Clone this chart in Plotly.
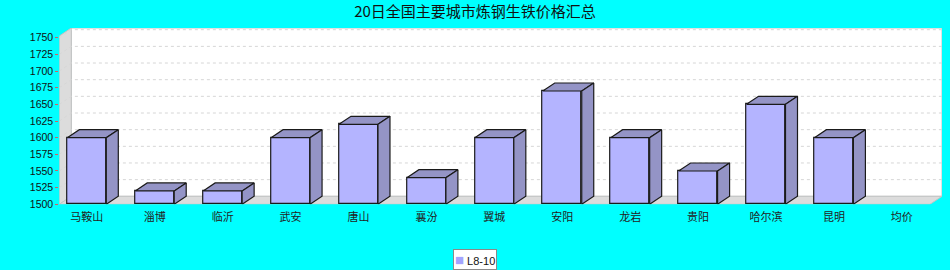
import plotly.graph_objects as go

# ---------------- data ----------------
title_text = "20日全国主要城市炼钢生铁价格汇总"
categories = ["马鞍山", "淄博", "临沂", "武安", "唐山", "襄汾", "翼城",
              "安阳", "龙岩", "贵阳", "哈尔滨", "昆明", "均价"]
values = [1600, 1520, 1520, 1600, 1620, 1540, 1600, 1670, 1600, 1550, 1650, 1600, None]
series_name = "L8-10"
y_ticks = [1500, 1525, 1550, 1575, 1600, 1625, 1650, 1675, 1700, 1725, 1750]

# ---------------- layout constants ----------------
W, H = 950, 270
PX_L, PX_R, PX_T, PX_B = 59.3, 942.0, 28.0, 204.3
PX_PER_CAT = 67.92
PX_PER_UNIT = 0.6664
FIRST_CENTER_PX = 86.8
DEPTH_PX_X, DEPTH_PX_Y = 12.0, 8.0

Y_BASE = 1500
X0 = (PX_L - FIRST_CENTER_PX) / PX_PER_CAT
X_MAX = X0 + (PX_R - PX_L) / PX_PER_CAT
Y_MAX = Y_BASE + (PX_B - PX_T) / PX_PER_UNIT
DX = DEPTH_PX_X / PX_PER_CAT
DY = DEPTH_PX_Y / PX_PER_UNIT
BAR_W = 39.0 / PX_PER_CAT

FRONT = "#b4b4ff"
SIDE = "#9494c6"
EDGE = "#1a1a1a"
WALL = "#dcdcdc"
WALL_EDGE = "#c4c4c4"
BG = "#00ffff"

fig = go.Figure()

def poly_path(pts):
    return "M " + " L ".join(f"{x},{y}" for x, y in pts) + " Z"

shapes = []
# back wall
shapes.append(dict(type="path", xref="x", yref="y", layer="below",
                   path=poly_path([(X0 + DX, Y_BASE + DY), (X_MAX, Y_BASE + DY),
                                   (X_MAX, Y_MAX), (X0 + DX, Y_MAX)]),
                   fillcolor="white", line=dict(color=WALL_EDGE, width=1)))
# left wall
shapes.append(dict(type="path", xref="x", yref="y", layer="below",
                   path=poly_path([(X0, Y_BASE), (X0 + DX, Y_BASE + DY),
                                   (X0 + DX, Y_MAX), (X0, Y_MAX - DY)]),
                   fillcolor=WALL, line=dict(color=WALL_EDGE, width=1)))
# floor
shapes.append(dict(type="path", xref="x", yref="y", layer="below",
                   path=poly_path([(X0, Y_BASE), (X_MAX - DX, Y_BASE),
                                   (X_MAX, Y_BASE + DY), (X0 + DX, Y_BASE + DY)]),
                   fillcolor=WALL, line=dict(color=WALL_EDGE, width=1)))
# gridlines on wall + back wall
for v in y_ticks[1:]:
    shapes.append(dict(type="path", xref="x", yref="y", layer="below",
                       path=f"M {X0},{v} L {X0 + DX},{v + DY} L {X_MAX},{v + DY}",
                       line=dict(color="#d6d6d6", width=1, dash="3px,3px")))

# front faces
idx = [i for i, v in enumerate(values) if v is not None]
vals = [values[i] for i in idx]
fig.add_trace(go.Bar(
    x=idx, y=[v - Y_BASE for v in vals], base=Y_BASE, width=BAR_W,
    name=series_name, marker=dict(color=FRONT, line=dict(color=EDGE, width=1.2)),
    showlegend=False, hoverinfo="skip"))

# top and side faces
tx, ty, sx, sy = [], [], [], []
for i, v in zip(idx, vals):
    xl, xr = i - BAR_W / 2, i + BAR_W / 2
    tx += [xl, xl + DX, xr + DX, xr, xl, None]
    ty += [v, v + DY, v + DY, v, v, None]
    sx += [xr, xr + DX, xr + DX, xr, xr, None]
    sy += [Y_BASE, Y_BASE + DY, v + DY, v, Y_BASE, None]
for px, py in ((tx, ty), (sx, sy)):
    fig.add_trace(go.Scatter(x=px, y=py, mode="lines", fill="toself",
                             fillcolor=SIDE, line=dict(color=EDGE, width=1.2),
                             showlegend=False, hoverinfo="skip"))

# legend box (series key)
legend_ann = dict(
    xref="paper", yref="paper", x=0.5, y=(H - 259.5) / H,
    xanchor="center", yanchor="middle", showarrow=False,
    text=f"<span style='color:#a4a4ff;font-size:15px'>■</span> {series_name}",
    font=dict(family="Liberation Sans", size=11, color="#111111"),
    bgcolor="white", bordercolor="#8a8a8a", borderwidth=1, borderpad=1)

fig.update_layout(
    template="none",
    width=W, height=H, autosize=False,
    margin=dict(l=0, r=0, t=0, b=0, pad=0, autoexpand=False),
    paper_bgcolor=BG, plot_bgcolor="rgba(0,0,0,0)",
    shapes=shapes,
    annotations=[legend_ann],
    showlegend=False,
    title=dict(text=title_text, x=0.5, xanchor="center", y=1 - 12 / H, yanchor="middle",
               font=dict(family="Noto Sans CJK SC", size=15, color="#111111")),
    xaxis=dict(domain=[PX_L / W, PX_R / W], range=[X0, X_MAX], automargin=False,
               tickmode="array", tickvals=list(range(len(categories))), ticktext=categories,
               ticks="outside", ticklen=2, tickcolor="rgba(0,0,0,0)",
               showgrid=False, zeroline=False, showline=False, fixedrange=True,
               tickfont=dict(family="Noto Sans CJK SC", size=11, color="#222222")),
    yaxis=dict(domain=[(H - PX_B) / H, (H - PX_T) / H], range=[Y_BASE, Y_MAX],
               automargin=False,
               tickmode="array", tickvals=y_ticks, ticks="outside", ticklen=3,
               tickcolor="#d06060", showgrid=False, zeroline=False, showline=False,
               fixedrange=True,
               tickfont=dict(family="Liberation Sans", size=10.5, color="#111111")),
    bargap=0,
)

fig.write_html("out.html")
